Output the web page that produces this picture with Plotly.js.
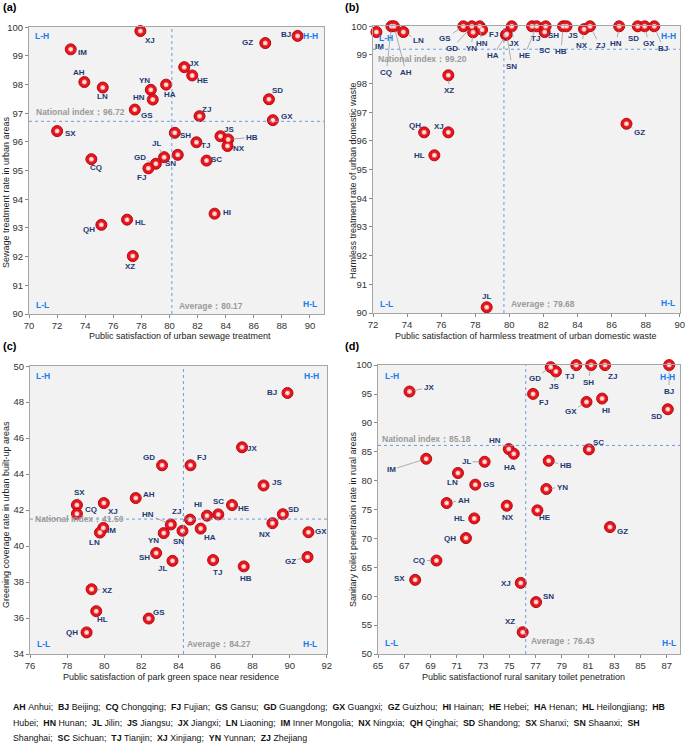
<!DOCTYPE html>
<html>
<head>
<meta charset="utf-8">
<script src="https://cdn.plot.ly/plotly-3.0.1.min.js"></script>
<style>html,body{margin:0;padding:0;background:#fff;}#chart{width:685px;height:743px;}</style>
</head>
<body>
<div id="chart"></div>
<script>
// ---------- DATA ----------
// (a) urban sewage
const codesA = ['XJ','IM','AH','LN','YN','HN','HA','JX','HE','GS','ZJ','GZ','BJ','SD','GX','SX','SH','TJ','JS','HB','NX','JL','GD','SN','SC','CQ','FJ','HI','HL','QH','XZ'];
const satA  = [77.93,72.97,73.94,75.25,78.67,78.81,79.76,81.05,81.62,77.53,82.14,86.82,89.12,87.08,87.36,72.0,80.38,81.92,83.63,84.18,84.13,79.62,79.03,80.59,82.64,74.44,78.5,83.21,76.98,75.15,77.39];
const rateA = [99.87,99.23,98.09,97.9,97.82,97.48,98.0,98.61,98.32,97.13,96.9,99.45,99.7,97.49,96.76,96.38,96.32,95.99,96.2,96.09,95.86,95.47,95.24,95.55,95.35,95.4,95.08,93.5,93.29,93.11,92.02];
const nationalA = 96.72, averageA = 80.17;

// (b) urban domestic waste
const codesB = ['IM','CQ','AH','LN','GS','GD','YN','HN','FJ','HA','SN','JX','TJ','HE','SC','SH','HB','JS','NX','ZJ','HN','SD','GX','BJ','XZ','QH','XJ','HL','GZ','JL'];
const satB  = [72.2,73.08,73.23,73.78,77.3,77.8,77.87,78.26,78.4,79.8,79.85,80.14,81.33,81.6,82.07,82.13,83.15,83.35,84.38,84.73,86.44,87.53,87.94,88.5,76.42,75.0,76.42,75.6,86.87,78.67];
const rateB = [99.8,100,100,99.8,100,100,99.79,100,99.88,99.7,99.73,100,100,100,99.8,100,100,100,99.9,100,100,100,100,100,98.29,96.3,96.3,95.5,96.6,90.2];
const nationalB = 99.20, averageB = 79.68;

// (c) park green space
const codesC = ['BJ','JX','GD','FJ','JS','SX','CQ','XJ','AH','IM','LN','HN','ZJ','YN','SN','HI','SC','HE','HA','SD','NX','GX','SH','JL','TJ','HB','GZ','XZ','HL','GS','QH'];
const satC  = [89.88,87.43,83.12,84.65,88.59,78.53,78.53,79.98,81.7,79.95,79.77,83.59,84.63,83.21,84.22,85.54,86.15,86.89,85.2,89.63,89.07,91.01,82.8,83.68,85.87,87.52,90.96,79.32,79.57,82.4,79.05];
const rateC = [48.51,45.49,44.49,44.49,43.37,42.28,41.79,42.39,42.67,41.01,40.75,41.2,41.47,40.72,40.85,41.69,41.76,42.28,40.97,41.77,41.27,40.77,39.61,39.18,39.22,38.87,39.39,37.6,36.38,35.97,35.2];
const nationalC = 41.50, averageC = 84.27;

// (d) rural sanitary toilet
const codesD = ['JX','GD','JS','TJ','SH','ZJ','BJ','FJ','GX','HI','SD','SC','HN','HA','IM','JL','HB','LN','GS','YN','AH','NX','HE','HL','GZ','QH','CQ','SX','XJ','SN','XZ'];
const satD  = [67.4,78.15,78.55,80.1,81.23,82.29,87.17,76.81,80.88,82.07,87.07,81.06,74.96,75.34,68.67,73.12,78.0,71.09,72.41,77.82,70.23,74.81,77.14,72.33,82.67,71.7,69.45,67.83,75.87,77.04,76.02];
const rateD = [95.43,99.65,98.9,100,100,100,100,95.02,93.63,94.21,92.36,85.41,85.47,84.66,83.79,83.27,83.44,81.33,79.31,78.55,76.13,75.66,74.86,73.47,71.97,70.06,66.18,62.83,62.31,58.98,53.77];
const nationalD = 85.18, averageD = 76.43;
// where the reference draws the (d) guide lines
const nationalLineD = 86.1, averageLineD = 76.25;

const legendLines = [
  [['AH','Anhui'],['BJ','Beijing'],['CQ','Chongqing'],['FJ','Fujian'],['GS','Gansu'],['GD','Guangdong'],['GX','Guangxi'],['GZ','Guizhou'],['HI','Hainan'],['HE','Hebei'],['HA','Henan'],['HL','Heilongjiang'],['HB','']],
  [['','Hubei'],['HN','Hunan'],['JL','Jilin'],['JS','Jiangsu'],['JX','Jiangxi'],['LN','Liaoning'],['IM','Inner Mongolia'],['NX','Ningxia'],['QH','Qinghai'],['SD','Shandong'],['SX','Shanxi'],['SN','Shaanxi'],['SH','']],
  [['','Shanghai'],['SC','Sichuan'],['TJ','Tianjin'],['XJ','Xinjiang'],['YN','Yunnan'],['ZJ','Zhejiang']]
];

// ---------- LABEL PLACEMENT (pixel offsets, leader flag) ----------
const offA = [[10,9,0],[12,3,1],[-5,-10,1],[0,9,0],[-6,-9,0],[-14,-2,1],[4,10,0],[10,-4,0],[11,5,0],[12,6,0],[7,-7,1],[-18,-1,0],[-12,-1,1],[9,-9,0],[14,-4,1],[13,2,0],[11,3,0],[9,3,0],[9,-7,0],[24,-2,1],[12,3,1],[-8,-14,1],[-16,-6,1],[-7,9,0],[10,-1,0],[5,8,0],[-7,9,0],[12,-1,0],[13,3,0],[-12,5,0],[-3,10,0]];
const offB = [[3,14,0],[-5,46,1],[12,46,1],[15,8,1],[-18,12,1],[-20,22,1],[-2,16,1],[2,17,1],[11,5,1],[-13,21,1],[5,32,1],[2,17,1],[3,12,1],[-12,29,1],[0,18,0],[8,9,0],[-2,25,1],[7,9,0],[-2,16,1],[10,19,1],[-3,17,1],[-4,12,0],[4,17,1],[9,22,1],[1,15,1],[-9,-7,0],[-9,-6,0],[-15,0,0],[13,9,1],[0,-11,1]];
const offC = [[-15,0,0],[10,1,0],[-13,-8,1],[11,-8,1],[13,-3,0],[3,-13,1],[14,-4,0],[9,8,0],[13,-4,1],[8,3,0],[-5,10,1],[-23,-10,1],[-14,-8,1],[-10,7,0],[-4,11,1],[-9,-11,1],[0,-13,0],[12,3,0],[9,9,0],[11,-5,0],[-7,11,1],[13,-1,0],[-12,4,1],[-10,8,0],[4,12,1],[2,12,1],[-17,4,1],[15,1,1],[6,8,0],[10,-6,0],[-15,0,0]];
const offD = [[19,-4,1],[-16,11,1],[-2,15,1],[-7,11,1],[-3,17,1],[7,11,1],[0,26,1],[10,9,1],[-16,10,1],[4,12,1],[-11,7,0],[10,-7,0],[-14,-9,1],[-4,14,0],[-35,11,1],[-18,0,1],[17,5,1],[-5,10,1],[14,0,0],[16,-2,1],[17,-3,1],[1,12,0],[8,7,0],[-15,0,0],[12,4,1],[-16,0,0],[-17,0,1],[-16,-1,0],[-15,1,0],[12,-6,1],[-13,-11,1]];

// ---------- BUILD ----------
const W = 685, H = 743;
const px = v => v / W, py = v => 1 - v / H;
const FONT = 'Liberation Sans, Arial, sans-serif';
const NAVY = '#1f3a73', QBLUE = '#1a7cf0', GUIDE = '#6d9be0';

const panels = [
  {codes:codesA, x:satA, y:rateA, off:offA, xa:'x', ya:'y'},
  {codes:codesB, x:satB, y:rateB, off:offB, xa:'x2', ya:'y2'},
  {codes:codesC, x:satC, y:rateC, off:offC, xa:'x3', ya:'y3'},
  {codes:codesD, x:satD, y:rateD, off:offD, xa:'x4', ya:'y4'}
];

const traces = [];
const annotations = [];
panels.forEach(p => {
  traces.push({type:'scatter', mode:'markers', x:p.x, y:p.y, xaxis:p.xa, yaxis:p.ya, cliponaxis:false, hoverinfo:'skip',
    marker:{size:11, color:'#e8141c', line:{color:'#b30d12', width:1}}});
  traces.push({type:'scatter', mode:'markers', x:p.x, y:p.y, xaxis:p.xa, yaxis:p.ya, cliponaxis:false, hoverinfo:'skip',
    marker:{size:5, color:'#f6a0a0', gradient:{type:'radial', color:'#ffffff'}, line:{width:0}}});
  p.codes.forEach((c, i) => {
    const o = p.off[i];
    annotations.push({xref:p.xa, yref:p.ya, x:p.x[i], y:p.y[i], text:c, showarrow:true, ax:o[0], ay:o[1],
      arrowhead:0, arrowwidth:0.8, standoff:5, arrowcolor: o[2] ? '#9a9a9a' : 'rgba(0,0,0,0)',
      font:{family:FONT, size:8, color:NAVY, weight:'bold'}});
  });
});

function txt(x, y, text, opt) {
  annotations.push(Object.assign({xref:'paper', yref:'paper', x:px(x), y:py(y), text:text, showarrow:false,
    xanchor:'left', yanchor:'middle', font:{family:FONT, size:8.5, color:'#9a9a9a', weight:'bold'}}, opt || {}));
}
// reference text
txt(34, 112, 'National index：' + nationalA.toFixed(2));
txt(177, 306, 'Average：' + averageA.toFixed(2));
txt(376, 59, 'National index：' + nationalB.toFixed(2));
txt(509, 304, 'Average：' + averageB.toFixed(2));
txt(33, 519, 'National index：' + nationalC.toFixed(2));
txt(185, 644, 'Average：' + averageC.toFixed(2));
txt(380, 439, 'National index：' + nationalD.toFixed(2));
txt(529, 641, 'Average：' + averageD.toFixed(2));
// quadrant labels
const qf = {xanchor:'center', font:{family:FONT, size:8.5, color:QBLUE, weight:'bold'}};
[[42,36,'L-H'],[310,36,'H-H'],[42,305,'L-L'],[310,304,'H-L'],
 [386,38,'L-H'],[668,36,'H-H'],[386,304,'L-L'],[668,303,'H-L'],
 [43,376,'L-H'],[311,376,'H-H'],[43,644,'L-L'],[310,644,'H-L'],
 [392,376,'L-H'],[667,377,'H-H'],[391,643,'L-L'],[669,643,'H-L']].forEach(q => txt(q[0], q[1], q[2], qf));
// panel tags
const tf = {font:{family:FONT, size:11, color:'#000', weight:'bold'}};
txt(1, 7, '(a)', tf); txt(343, 7, '(b)', tf); txt(1, 346, '(c)', tf); txt(343, 346, '(d)', tf);
// axis titles
const af = {xanchor:'center', font:{family:FONT, size:9, color:'#222'}};
const afv = {xanchor:'center', textangle:-90, font:{family:FONT, size:9, color:'#222'}};
txt(180, 336, 'Public satisfaction of urban sewage treatment', af);
txt(526, 336, 'Public satisfaction of harmless treatment of urban domestic waste', af);
txt(171, 677, 'Public satisfaction of park green space near residence', af);
txt(523, 677, 'Public satisfactionof rural sanitary toilet penetration', af);
txt(6, 192, 'Sewage treatment rate in urban areas', afv);
txt(353, 180, 'Harmless treatment rate of urban domestic waste', afv);
txt(6, 515, 'Greening coverage rate in urban built-up areas', afv);
txt(353, 519, 'Sanitary toilet penetration rate in rural areas', afv);
// province legend
const NB = '\u00a0';
const legY = [707, 723, 738];
legendLines.forEach((line, li) => {
  const last = li === legendLines.length - 1;
  const s = line.map((e, k) => {
    const sep = (e[1] && !(last && k === line.length - 1)) ? ';' : '';
    return (e[0] ? '<b>' + e[0] + '</b>' + (e[1] ? NB : '') : '') + e[1] + sep;
  }).join(NB + NB);
  txt(11, legY[li], s, {font:{family:FONT, size:8.8, color:'#111'}});
});

// guide lines
const shapes = [];
function hline(xa, ya, v) { shapes.push({type:'line', xref:xa + ' domain', yref:ya, x0:0, x1:1, y0:v, y1:v, line:{color:GUIDE, width:1, dash:'dot'}}); }
function vline(xa, ya, v) { shapes.push({type:'line', xref:xa, yref:ya + ' domain', x0:v, x1:v, y0:0, y1:1, line:{color:GUIDE, width:1, dash:'dot'}}); }
hline('x','y',nationalA); vline('x','y',averageA);
hline('x2','y2',nationalB); vline('x2','y2',averageB);
hline('x3','y3',nationalC); vline('x3','y3',averageC);
hline('x4','y4',nationalLineD); vline('x4','y4',averageLineD);

function ax(range, dtick, tick0, domain, anchor) {
  return {range:range, dtick:dtick, tick0:tick0, domain:domain, anchor:anchor, showgrid:false, zeroline:false,
    showline:true, mirror:true, linecolor:'#a6a6a6', linewidth:1, ticks:'outside', ticklen:3, tickcolor:'#888',
    ticklabeloverflow:'allow',
    tickfont:{family:FONT, size:9.5, color:'#333'}, fixedrange:true};
}
const layout = {
  width:W, height:H, margin:{l:0, r:0, t:0, b:0}, paper_bgcolor:'#fff', plot_bgcolor:'#f2f2f2', showlegend:false,
  xaxis:  ax([70,91], 2, 70, [px(29), px(324)], 'y'),
  yaxis:  ax([90,100.01], 1, 90, [py(314), py(27)], 'x'),
  xaxis2: ax([72,90.01], 2, 72, [px(373), px(680)], 'y2'),
  yaxis2: ax([90,100.01], 1, 90, [py(313), py(26)], 'x2'),
  xaxis3: ax([76,92.01], 2, 76, [px(30), px(327)], 'y3'),
  yaxis3: ax([34,50.01], 2, 34, [py(654), py(366)], 'x3'),
  xaxis4: ax([65,88], 2, 65, [px(378), px(680)], 'y4'),
  yaxis4: ax([50,100.02], 5, 50, [py(654), py(365)], 'x4'),
  shapes:shapes, annotations:annotations
};
Plotly.newPlot('chart', traces, layout, {displayModeBar:false, staticPlot:true});
</script>
</body>
</html>
